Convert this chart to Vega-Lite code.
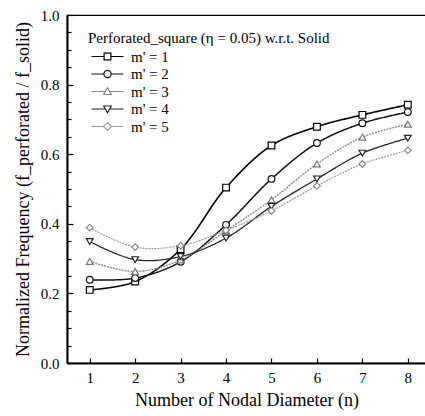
{
  "$schema": "https://vega.github.io/schema/vega-lite/v6.json",
  "autosize": "none",
  "width": 359,
  "height": 348,
  "padding": {"left": 67, "top": 15, "right": 0, "bottom": 53},
  "background": "white",
  "config": {
    "font": "Times New Roman, Liberation Serif, Tinos, serif",
    "view": {"stroke": "black", "strokeWidth": 1.2},
    "axis": {
      "domainColor": "black", "domainWidth": 2, "tickColor": "black", "tickWidth": 1.2,
      "labelFont": "Times New Roman, Liberation Serif, Tinos, serif", "labelFontSize": 15, "labelColor": "black",
      "titleFont": "Times New Roman, Liberation Serif, Tinos, serif", "titleFontWeight": "normal", "titleColor": "black",
      "grid": false
    },
    "legend": {
      "titleFont": "Times New Roman, Liberation Serif, Tinos, serif", "titleFontWeight": "normal", "titleFontSize": 15, "titleColor": "black", "titleLimit": 400,
      "labelFont": "Times New Roman, Liberation Serif, Tinos, serif", "labelFontSize": 15, "labelColor": "black"
    }
  },
  "data": {"values": [
    {"m": 1, "n": 1, "v": 0.210}, {"m": 1, "n": 2, "v": 0.234}, {"m": 1, "n": 3, "v": 0.327}, {"m": 1, "n": 4, "v": 0.504},
    {"m": 1, "n": 5, "v": 0.625}, {"m": 1, "n": 6, "v": 0.679}, {"m": 1, "n": 7, "v": 0.713}, {"m": 1, "n": 8, "v": 0.742},
    {"m": 2, "n": 1, "v": 0.239}, {"m": 2, "n": 2, "v": 0.244}, {"m": 2, "n": 3, "v": 0.291}, {"m": 2, "n": 4, "v": 0.397},
    {"m": 2, "n": 5, "v": 0.529}, {"m": 2, "n": 6, "v": 0.632}, {"m": 2, "n": 7, "v": 0.689}, {"m": 2, "n": 8, "v": 0.721},
    {"m": 3, "n": 1, "v": 0.292}, {"m": 3, "n": 2, "v": 0.263}, {"m": 3, "n": 3, "v": 0.296}, {"m": 3, "n": 4, "v": 0.380},
    {"m": 3, "n": 5, "v": 0.469}, {"m": 3, "n": 6, "v": 0.572}, {"m": 3, "n": 7, "v": 0.649}, {"m": 3, "n": 8, "v": 0.686},
    {"m": 4, "n": 1, "v": 0.349}, {"m": 4, "n": 2, "v": 0.297}, {"m": 4, "n": 3, "v": 0.306}, {"m": 4, "n": 4, "v": 0.359},
    {"m": 4, "n": 5, "v": 0.450}, {"m": 4, "n": 6, "v": 0.529}, {"m": 4, "n": 7, "v": 0.603}, {"m": 4, "n": 8, "v": 0.646},
    {"m": 5, "n": 1, "v": 0.389}, {"m": 5, "n": 2, "v": 0.333}, {"m": 5, "n": 3, "v": 0.337}, {"m": 5, "n": 4, "v": 0.381},
    {"m": 5, "n": 5, "v": 0.437}, {"m": 5, "n": 6, "v": 0.509}, {"m": 5, "n": 7, "v": 0.572}, {"m": 5, "n": 8, "v": 0.611}
  ]},
  "encoding": {
    "x": {
      "field": "n", "type": "quantitative",
      "scale": {"domain": [0.5, 8.4], "nice": false, "zero": false},
      "axis": {"values": [1, 2, 3, 4, 5, 6, 7, 8], "tickSize": -5, "labelPadding": 12,
               "title": "Number of Nodal Diameter (n)", "titleFontSize": 18, "titlePadding": 6}
    },
    "y": {
      "field": "v", "type": "quantitative",
      "scale": {"domain": [0, 1], "nice": false},
      "axis": {
        "values": [0, 0.05, 0.1, 0.15, 0.2, 0.25, 0.3, 0.35, 0.4, 0.45, 0.5, 0.55, 0.6, 0.65, 0.7, 0.75, 0.8, 0.85, 0.9, 0.95, 1],
        "labelExpr": "abs(datum.value*5 - round(datum.value*5)) < 0.001 ? format(datum.value, '.1f') : ''",
        "tickSize": {"condition": {"test": "abs(datum.value*5 - round(datum.value*5)) < 0.001", "value": -6}, "value": -4},
        "labelPadding": 14,
        "title": "Normalized Frequency (f_perforated / f_solid)", "titleFontSize": 18, "titlePadding": 8
      }
    }
  },
  "resolve": {"scale": {"shape": "independent", "color": "independent"}},
  "layer": [
    {
      "mark": {"type": "line", "interpolate": "catmull-rom"},
      "encoding": {
        "detail": {"field": "m", "type": "nominal"},
        "color": {"field": "m", "type": "nominal", "legend": null,
                  "scale": {"domain": [1, 2, 3, 4, 5], "range": ["#000000", "#111111", "#8a8a8a", "#222222", "#9a9a9a"]}},
        "strokeWidth": {"field": "m", "type": "nominal", "legend": null,
                        "scale": {"domain": [1, 2, 3, 4, 5], "range": [1.6, 1.2, 1.0, 1.4, 1.0]}},
        "strokeDash": {"field": "m", "type": "nominal", "legend": null,
                       "scale": {"domain": [1, 2, 3, 4, 5], "range": [[1, 0], [1, 0], [2, 1], [1, 0], [2, 1]]}}
      }
    },
    {
      "mark": {"type": "point", "filled": false, "fill": "white", "fillOpacity": 1, "size": 45, "strokeWidth": 1.2, "opacity": 1},
      "encoding": {
        "color": {"field": "m", "type": "nominal", "legend": null,
                  "scale": {"domain": [1, 2, 3, 4, 5], "range": ["#000000", "#111111", "#777777", "#222222", "#888888"]}},
        "shape": {"field": "m", "type": "nominal", "legend": null,
                  "scale": {"domain": [1, 2, 3, 4, 5], "range": ["square", "circle", "triangle-up", "triangle-down", "diamond"]}}
      }
    },
    {
      "mark": {"type": "point", "filled": false, "opacity": 0, "strokeWidth": 1.2},
      "encoding": {
        "color": {"field": "m", "type": "nominal",
                  "scale": {"domain": [1, 2, 3, 4, 5], "range": ["#000000", "#111111", "#888888", "#222222", "#999999"]},
                  "legend": {"title": "Perforated_square (η = 0.05) w.r.t. Solid", "orient": "none", "legendX": 21, "legendY": 16,
                             "labelExpr": "'m\\' = ' + datum.label", "symbolSize": 64, "symbolOpacity": 1, "labelOffset": 28,
                             "rowPadding": 1.5, "titlePadding": 3, "symbolStrokeWidth": 1.2}},
        "shape": {"field": "m", "type": "nominal",
                  "scale": {"domain": [1, 2, 3, 4, 5], "range": [
                    "M-1,0H2.15M3.85,0H7M2.15,-0.85H3.85V0.85H2.15Z",
                    "M-1,0H2.1M3.9,0H7M2.1,0A0.9,0.9 0 1,0 3.9,0A0.9,0.9 0 1,0 2.1,0Z",
                    "M-1,0H2.47M3.53,0H7M3,-0.95L3.95,0.75L2.05,0.75Z",
                    "M-1,0H2.47M3.53,0H7M3,0.95L3.95,-0.75L2.05,-0.75Z",
                    "M-1,0H2M4,0H7M3,-1L4,0L3,1L2,0Z"]},
                  "legend": {"title": "Perforated_square (η = 0.05) w.r.t. Solid", "orient": "none", "legendX": 21, "legendY": 16,
                             "labelExpr": "'m\\' = ' + datum.label", "symbolSize": 64, "symbolOpacity": 1, "labelOffset": 28,
                             "rowPadding": 1.5, "titlePadding": 3, "symbolStrokeWidth": 1.2}}
      }
    }
  ]
}
